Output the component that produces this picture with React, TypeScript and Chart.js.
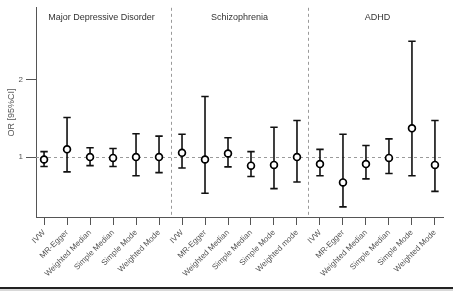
import { useEffect, useRef } from "react";
import { Chart, registerables } from "chart.js";

Chart.register(...registerables);

// Panels (disorders) and the MR methods estimated within each
const disorders = ["Major Depressive Disorder", "Schizophrenia", "ADHD"];
const methodsMDD = ["IVW", "MR-Egger", "Weighted Median", "Simple Median", "Simple Mode", "Weighted Mode"];
const methodsSCZ = ["IVW", "MR-Egger", "Weighted Median", "Simple Median", "Simple Mode", "Weighted mode"];
const methodsADHD = ["IVW", "MR-Egger", "Weighted Median", "Simple Median", "Simple Mode", "Weighted Mode"];

// Odds ratios with 95% confidence limits
const orMDD = [0.97, 1.1, 1.0, 0.99, 1.0, 1.0];
const lowerMDD = [0.88, 0.81, 0.89, 0.88, 0.76, 0.8];
const upperMDD = [1.07, 1.51, 1.12, 1.11, 1.3, 1.27];

const orSCZ = [1.055, 0.97, 1.047, 0.89, 0.9, 1.0];
const lowerSCZ = [0.86, 0.535, 0.875, 0.75, 0.595, 0.68];
const upperSCZ = [1.295, 1.78, 1.25, 1.07, 1.385, 1.47];

const orADHD = [0.91, 0.675, 0.91, 0.99, 1.37, 0.9];
const lowerADHD = [0.76, 0.36, 0.72, 0.79, 0.76, 0.56];
const upperADHD = [1.1, 1.295, 1.15, 1.235, 2.49, 1.47];

// Y axis
const yMin = 0.23;
const yMax = 2.92;
const yTicks = [1, 2];
const nullValue = 1;

const tickLabels = [...methodsMDD, ...methodsSCZ, ...methodsADHD];
const orValues = [...orMDD, ...orSCZ, ...orADHD];
const lowerValues = [...lowerMDD, ...lowerSCZ, ...lowerADHD];
const upperValues = [...upperMDD, ...upperSCZ, ...upperADHD];
const groupSizes = [methodsMDD.length, methodsSCZ.length, methodsADHD.length];

const FONT = '"Liberation Sans", Arial, sans-serif';
const AXIS = "#555";

const forestPlugin = {
  id: "forestDecor",
  beforeDatasetsDraw(chart: any) {
    const { ctx, chartArea, scales } = chart;
    const xs = scales.x;
    const ys = scales.y;
    ctx.save();
    // reference line at OR = 1 and panel separators
    ctx.strokeStyle = "#9a9a9a";
    ctx.lineWidth = 1;
    ctx.setLineDash([3, 3]);
    const y1 = Math.round(ys.getPixelForValue(nullValue)) + 0.5;
    ctx.beginPath();
    ctx.moveTo(chartArea.left, y1);
    ctx.lineTo(chartArea.right, y1);
    ctx.stroke();
    let start = 0;
    for (let g = 0; g < groupSizes.length - 1; g++) {
      start += groupSizes[g];
      const sx = Math.round(xs.getPixelForValue(start - 0.5)) + 0.5;
      ctx.beginPath();
      ctx.moveTo(sx, chartArea.top);
      ctx.lineTo(sx, chartArea.bottom);
      ctx.stroke();
    }
    ctx.setLineDash([]);
    // confidence interval whiskers
    ctx.strokeStyle = "#111";
    ctx.lineWidth = 1.6;
    const cap = 3.7;
    orValues.forEach((_, i) => {
      const px = xs.getPixelForValue(i);
      const lo = ys.getPixelForValue(lowerValues[i]);
      const hi = ys.getPixelForValue(upperValues[i]);
      ctx.beginPath();
      ctx.moveTo(px, lo);
      ctx.lineTo(px, hi);
      ctx.moveTo(px - cap, lo);
      ctx.lineTo(px + cap, lo);
      ctx.moveTo(px - cap, hi);
      ctx.lineTo(px + cap, hi);
      ctx.stroke();
    });
    // panel titles
    ctx.fillStyle = "#333";
    ctx.font = `9px ${FONT}`;
    ctx.textAlign = "center";
    ctx.textBaseline = "middle";
    let first = 0;
    disorders.forEach((name, g) => {
      const center = first + (groupSizes[g] - 1) / 2;
      first += groupSizes[g];
      ctx.fillText(name, xs.getPixelForValue(center), chartArea.top + 10);
    });
    ctx.restore();
  },
};

export default function App() {
  const ref = useRef<HTMLCanvasElement | null>(null);

  useEffect(() => {
    if (!ref.current) return;
    const chart = new Chart(ref.current, {
      type: "scatter",
      data: {
        datasets: [
          {
            data: orValues.map((v, i) => ({ x: i, y: v })),
            pointRadius: 3.4,
            pointHoverRadius: 3.4,
            pointBorderWidth: 1.7,
            pointBackgroundColor: "#fff",
            pointBorderColor: "#000",
            showLine: false,
          },
        ],
      },
      options: {
        responsive: false,
        animation: false,
        events: [],
        layout: { padding: { top: 7, right: 10, left: 0, bottom: 0 } },
        plugins: { legend: { display: false }, tooltip: { enabled: false } },
        scales: {
          x: {
            type: "linear",
            min: -0.35,
            max: tickLabels.length - 1 + 0.35,
            afterBuildTicks: (s: any) => {
              s.ticks = tickLabels.map((_, i) => ({ value: i }));
            },
            afterFit: (s: any) => {
              s.height = 70;
            },
            ticks: {
              autoSkip: false,
              minRotation: 45,
              maxRotation: 45,
              padding: 3,
              color: AXIS,
              font: { family: FONT, size: 8 },
              callback: (v: any) => tickLabels[Math.round(Number(v))] ?? "",
            },
            grid: { drawOnChartArea: false, tickLength: 8, color: AXIS, lineWidth: 1 },
            border: { color: AXIS, width: 1 },
          },
          y: {
            type: "linear",
            min: yMin,
            max: yMax,
            afterBuildTicks: (s: any) => {
              s.ticks = yTicks.map((v) => ({ value: v }));
            },
            afterFit: (s: any) => {
              s.width = 36;
            },
            ticks: {
              padding: 3,
              color: AXIS,
              font: { family: FONT, size: 8 },
              callback: (v: any) => String(v),
            },
            grid: { drawOnChartArea: false, tickLength: 10, color: AXIS, lineWidth: 1 },
            border: { color: AXIS, width: 1 },
            title: {
              display: true,
              text: "OR [95%CI]",
              color: AXIS,
              font: { family: FONT, size: 9 },
              padding: { top: 6.6, bottom: 0 },
            },
          },
        },
      },
      plugins: [forestPlugin],
    });
    return () => chart.destroy();
  }, []);

  return (
    <div style={{ position: "absolute", left: 0, top: 0, width: 453, height: 291, background: "#fff" }}>
      <canvas ref={ref} width={453} height={287} style={{ display: "block" }} />
      <div style={{ height: 2, background: "#222" }} />
      <div style={{ height: 2, background: "#d8d8d8" }} />
    </div>
  );
}
